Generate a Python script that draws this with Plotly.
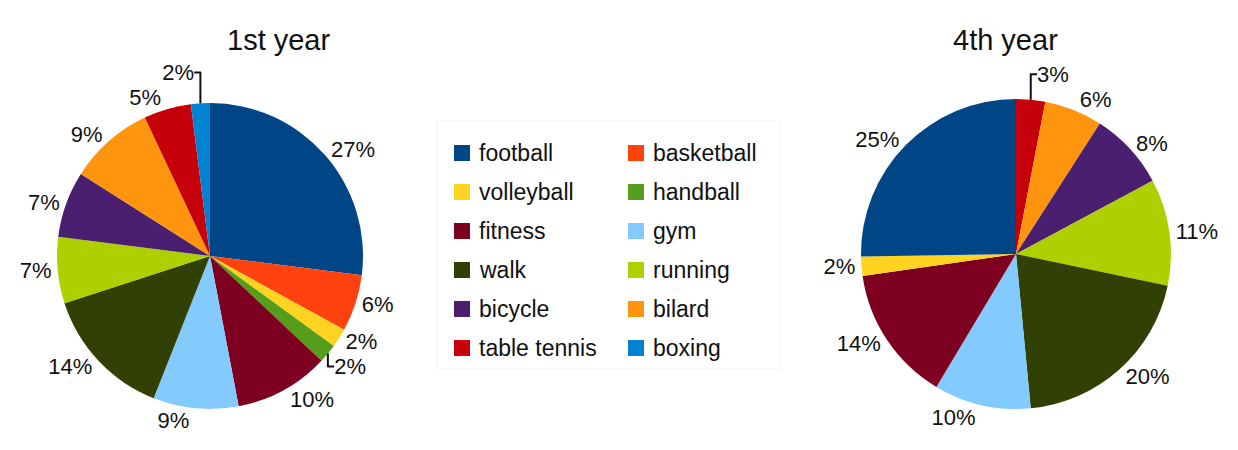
import plotly.graph_objects as go

# Sports practised by students, share of answers (%)
sports = ["football", "basketball", "volleyball", "handball", "fitness", "gym",
          "walk", "running", "bicycle", "bilard", "table tennis", "boxing"]
year1 = [27, 6, 2, 2, 10, 9, 14, 7, 7, 9, 5, 2]
year4 = [25, 0, 2, 0, 14, 10, 20, 11, 8, 6, 3, 0]
colors = ["#004586", "#ff420e", "#ffd320", "#579d1c", "#7e0021", "#83caff",
          "#314004", "#aecf00", "#4b1f6f", "#ff950e", "#c5000b", "#0084d1"]
titles = ["1st year", "4th year"]

W, H = 1238, 450
FONT = "Liberation Sans, Arial, sans-serif"

fig = go.Figure()

# 1st year pie: clockwise from 12 o'clock
fig.add_trace(go.Pie(
    labels=sports, values=year1, sort=False, direction="clockwise", rotation=0,
    marker=dict(colors=colors, line=dict(width=0)),
    texttemplate="%{value}%", textposition="outside",
    textfont=dict(size=22, color="#111111", family=FONT),
    domain=dict(x=[57 / W, 363 / W], y=[1 - 409 / H, 1 - 103 / H]),
    showlegend=False, hoverinfo="label+value",
))

# 4th year pie: sports with answers, football ending at 12 o'clock
# going counter-clockwise, i.e. the reversed order drawn clockwise
keep = [i for i, v in enumerate(year4) if v > 0][::-1]
fig.add_trace(go.Pie(
    labels=[sports[i] for i in keep], values=[year4[i] for i in keep],
    sort=False, direction="clockwise", rotation=0,
    marker=dict(colors=[colors[i] for i in keep], line=dict(width=0)),
    texttemplate="%{value}%", textposition="outside",
    textfont=dict(size=22, color="#111111", family=FONT),
    domain=dict(x=[861 / W, 1171 / W], y=[1 - 409 / H, 1 - 99 / H]),
    showlegend=False, hoverinfo="label+value",
))

annotations = [
    dict(text=titles[0], x=225 / W, y=1 - 22 / H, xref="paper", yref="paper",
         showarrow=False, font=dict(size=29, color="#111111", family=FONT)),
    dict(text=titles[1], x=1060 / W, y=1 - 22 / H, xref="paper", yref="paper",
         showarrow=False, font=dict(size=29, color="#111111", family=FONT)),
]
shapes = [
    # legend frame
    dict(type="rect", xref="paper", yref="paper",
         x0=437 / W, x1=780 / W, y0=1 - 369 / H, y1=1 - 121 / H,
         line=dict(color="#f3f3f3", width=1), fillcolor="rgba(0,0,0,0)"),
]

# two-column legend, filled row by row
col_x = [454, 628]
row_y0, row_step, sq = 153, 39, 16
for i, (name, col) in enumerate(zip(sports, colors)):
    cx = col_x[i % 2]
    cy = row_y0 + (i // 2) * row_step
    shapes.append(dict(type="rect", xref="paper", yref="paper",
                       x0=cx / W, x1=(cx + sq) / W,
                       y0=1 - (cy + sq / 2) / H, y1=1 - (cy - sq / 2) / H,
                       line=dict(width=0), fillcolor=col))
    annotations.append(dict(text=name, x=(cx + sq + 7) / W, y=1 - cy / H,
                            xref="paper", yref="paper", xanchor="left",
                            yanchor="middle", showarrow=False,
                            font=dict(size=23, color="#111111", family=FONT)))

fig.update_layout(
    width=W, height=H, margin=dict(l=0, r=0, t=0, b=0),
    paper_bgcolor="white", plot_bgcolor="white",
    annotations=annotations, shapes=shapes,
)

fig.write_html("out.html")
